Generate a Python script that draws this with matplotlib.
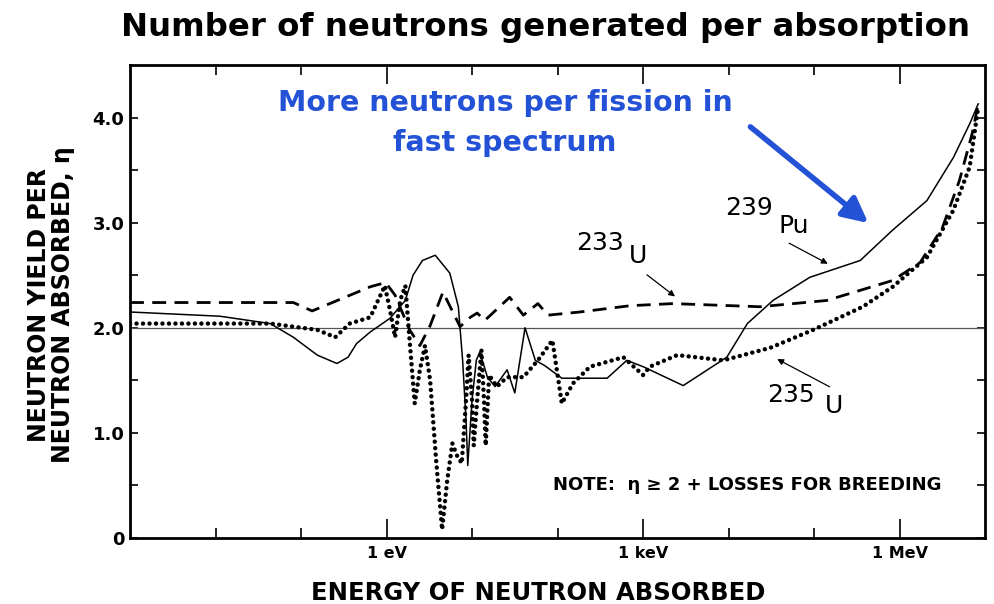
import numpy as np
import matplotlib.pyplot as plt
from matplotlib.ticker import FixedLocator, NullFormatter

# energies given as log10(E / eV), eta
log_e_pu239 = [-3.00, -1.95, -1.36, -1.09, -0.81, -0.58, -0.45, -0.35, -0.19, 0.04,
               0.22, 0.31, 0.42, 0.57, 0.74, 0.84, 0.89, 0.93, 0.95, 1.00,
               1.05, 1.09, 1.18, 1.27, 1.41, 1.50, 1.62, 1.74, 1.85, 2.05,
               2.58, 2.81, 3.00, 3.47, 3.98, 4.22, 4.52, 4.95, 5.54, 5.92,
               6.32, 6.63, 6.82, 6.92]
eta_pu239 = [2.15, 2.11, 2.04, 1.91, 1.74, 1.66, 1.72, 1.85, 1.96, 2.09,
             2.26, 2.50, 2.64, 2.69, 2.52, 2.20, 1.69, 1.12, 0.69, 1.31,
             1.69, 1.77, 1.53, 1.44, 1.60, 1.38, 2.00, 1.69, 1.64, 1.52,
             1.52, 1.69, 1.63, 1.45, 1.72, 2.04, 2.26, 2.48, 2.64, 2.93,
             3.21, 3.62, 3.94, 4.13]

log_e_u233 = [-3.00, -1.09, -0.87, -0.19, -0.01, 0.10, 0.27, 0.39, 0.51, 0.66,
              0.86, 0.98, 1.06, 1.15, 1.44, 1.60, 1.77, 1.89, 2.26, 2.85,
              3.35, 4.37, 5.15, 5.92, 6.24, 6.50, 6.70, 6.85, 6.92]
eta_u233 = [2.24, 2.24, 2.16, 2.39, 2.43, 2.31, 1.98, 1.83, 2.02, 2.34,
            2.01, 2.10, 2.14, 2.07, 2.29, 2.12, 2.23, 2.12, 2.15, 2.21,
            2.23, 2.20, 2.26, 2.45, 2.62, 2.95, 3.40, 3.85, 4.13]

log_e_u235 = [-3.00, -1.36, -0.81, -0.60, -0.43, -0.19, -0.02, 0.04, 0.10, 0.16,
              0.22, 0.27, 0.33, 0.39, 0.45, 0.51, 0.58, 0.65, 0.71, 0.77,
              0.82, 0.88, 0.93, 0.96, 1.00, 1.02, 1.06, 1.11, 1.14, 1.16,
              1.20, 1.29, 1.41, 1.60, 1.77, 1.94, 2.05, 2.18, 2.38, 2.77,
              3.00, 3.08, 3.40, 3.94, 4.49, 4.99, 5.57, 5.92, 6.32, 6.63,
              6.82, 6.92]
eta_u235 = [2.04, 2.04, 1.98, 1.91, 2.04, 2.10, 2.40, 2.17, 1.91, 2.26,
            2.40, 1.88, 1.28, 1.60, 1.83, 1.50, 0.74, 0.08, 0.55, 0.90,
            0.79, 0.71, 1.31, 1.74, 1.31, 0.88, 1.31, 1.79, 1.31, 0.88,
            1.55, 1.44, 1.53, 1.53, 1.69, 1.88, 1.28, 1.47, 1.63, 1.72,
            1.55, 1.63, 1.74, 1.69, 1.81, 1.98, 2.20, 2.39, 2.67, 3.12,
            3.53, 4.10]

x_ticks = [1, 1e3, 1e6]
x_tick_labels = ["1 eV", "1 keV", "1 MeV"]
x_minor = [1e-2, 1e-1, 10, 100, 1e4, 1e5]
y_ticks = [0, 1, 2, 3, 4]
y_tick_labels = ["0", "1.0", "2.0", "3.0", "4.0"]
y_minor = [0.5, 1.5, 2.5, 3.5]

blue = "#2352d6"

fig = plt.figure(figsize=(9.94, 6.04), dpi=100)
ax = fig.add_axes([0.1308, 0.1093, 0.8602, 0.7831])

ax.axhline(2.0, color="#555555", lw=0.9)
ax.plot(10 ** np.array(log_e_pu239), eta_pu239, color="black", lw=1.1)
ax.plot(10 ** np.array(log_e_u233), eta_u233, color="black", lw=2.0,
        linestyle=(0, (5, 3)))
ax.plot(10 ** np.array(log_e_u235), eta_u235, color="black", lw=3.2,
        linestyle=(0, (0.01, 1.45)), dash_capstyle="round")

ax.set_xscale("log")
ax.set_xlim(1e-3, 1e7)
ax.set_ylim(0, 4.5)

ax.xaxis.set_major_locator(FixedLocator(x_ticks))
ax.set_xticklabels(x_tick_labels, fontsize=11.5, fontweight="bold")
ax.xaxis.set_minor_locator(FixedLocator(x_minor))
ax.xaxis.set_minor_formatter(NullFormatter())
ax.set_yticks(y_ticks)
ax.set_yticklabels(y_tick_labels, fontsize=13, fontweight="bold")
ax.yaxis.set_minor_locator(FixedLocator(y_minor))

ax.tick_params(which="both", direction="in", top=True, right=True, width=1.2)
ax.tick_params(axis="x", which="major", length=14, pad=6)
ax.tick_params(axis="x", which="minor", length=7)
ax.tick_params(axis="y", which="both", length=6, pad=4)
for s in ax.spines.values():
    s.set_linewidth(2)

# isotope labels
lab = dict(transform=ax.transAxes, fontsize=18, ha="left", va="center")
ax.text(0.522, 0.624, "233", **lab)
ax.text(0.584, 0.596, "U", **lab)
ax.text(0.696, 0.698, "239", **lab)
ax.text(0.758, 0.660, "Pu", **lab)
ax.text(0.745, 0.302, "235", **lab)
ax.text(0.813, 0.279, "U", **lab)

arr = dict(arrowstyle="-|>", color="black", lw=0.9, mutation_scale=9)
ax.annotate("", xy=(0.640, 0.507), xytext=(0.602, 0.560),
            xycoords="axes fraction", arrowprops=arr)
ax.annotate("", xy=(0.819, 0.577), xytext=(0.768, 0.626),
            xycoords="axes fraction", arrowprops=arr)
ax.annotate("", xy=(0.754, 0.381), xytext=(0.821, 0.317),
            xycoords="axes fraction", arrowprops=arr)

ax.text(0.495, 0.112, "NOTE:  \u03b7 \u2265 2 + LOSSES FOR BREEDING",
        transform=ax.transAxes, fontsize=13, fontweight="bold",
        ha="left", va="center")

# blue callout
ax.text(0.4386, 0.920, "More neutrons per fission in", transform=ax.transAxes,
        fontsize=20.5, fontweight="bold", color=blue, ha="center", va="center")
ax.text(0.4386, 0.835, "fast spectrum", transform=ax.transAxes,
        fontsize=20.5, fontweight="bold", color=blue, ha="center", va="center")
ax.annotate("", xy=(0.866, 0.662), xytext=(0.723, 0.873),
            xycoords="axes fraction",
            arrowprops=dict(arrowstyle="-|>", color=blue, lw=4,
                            mutation_scale=38))

fig.text(0.549, 0.954, "Number of neutrons generated per absorption",
         fontsize=23.3, fontweight="bold", ha="center", va="center")
fig.text(0.541, 0.018, "ENERGY OF NEUTRON ABSORBED",
         fontsize=17.5, fontweight="bold", ha="center", va="center")
fig.text(0.051, 0.495, "NEUTRON YIELD PER\nNEUTRON ABSORBED, \u03b7",
         fontsize=17, fontweight="bold", rotation=90, ha="center",
         va="center", linespacing=1.0)

fig.savefig("out.png", dpi=100)
